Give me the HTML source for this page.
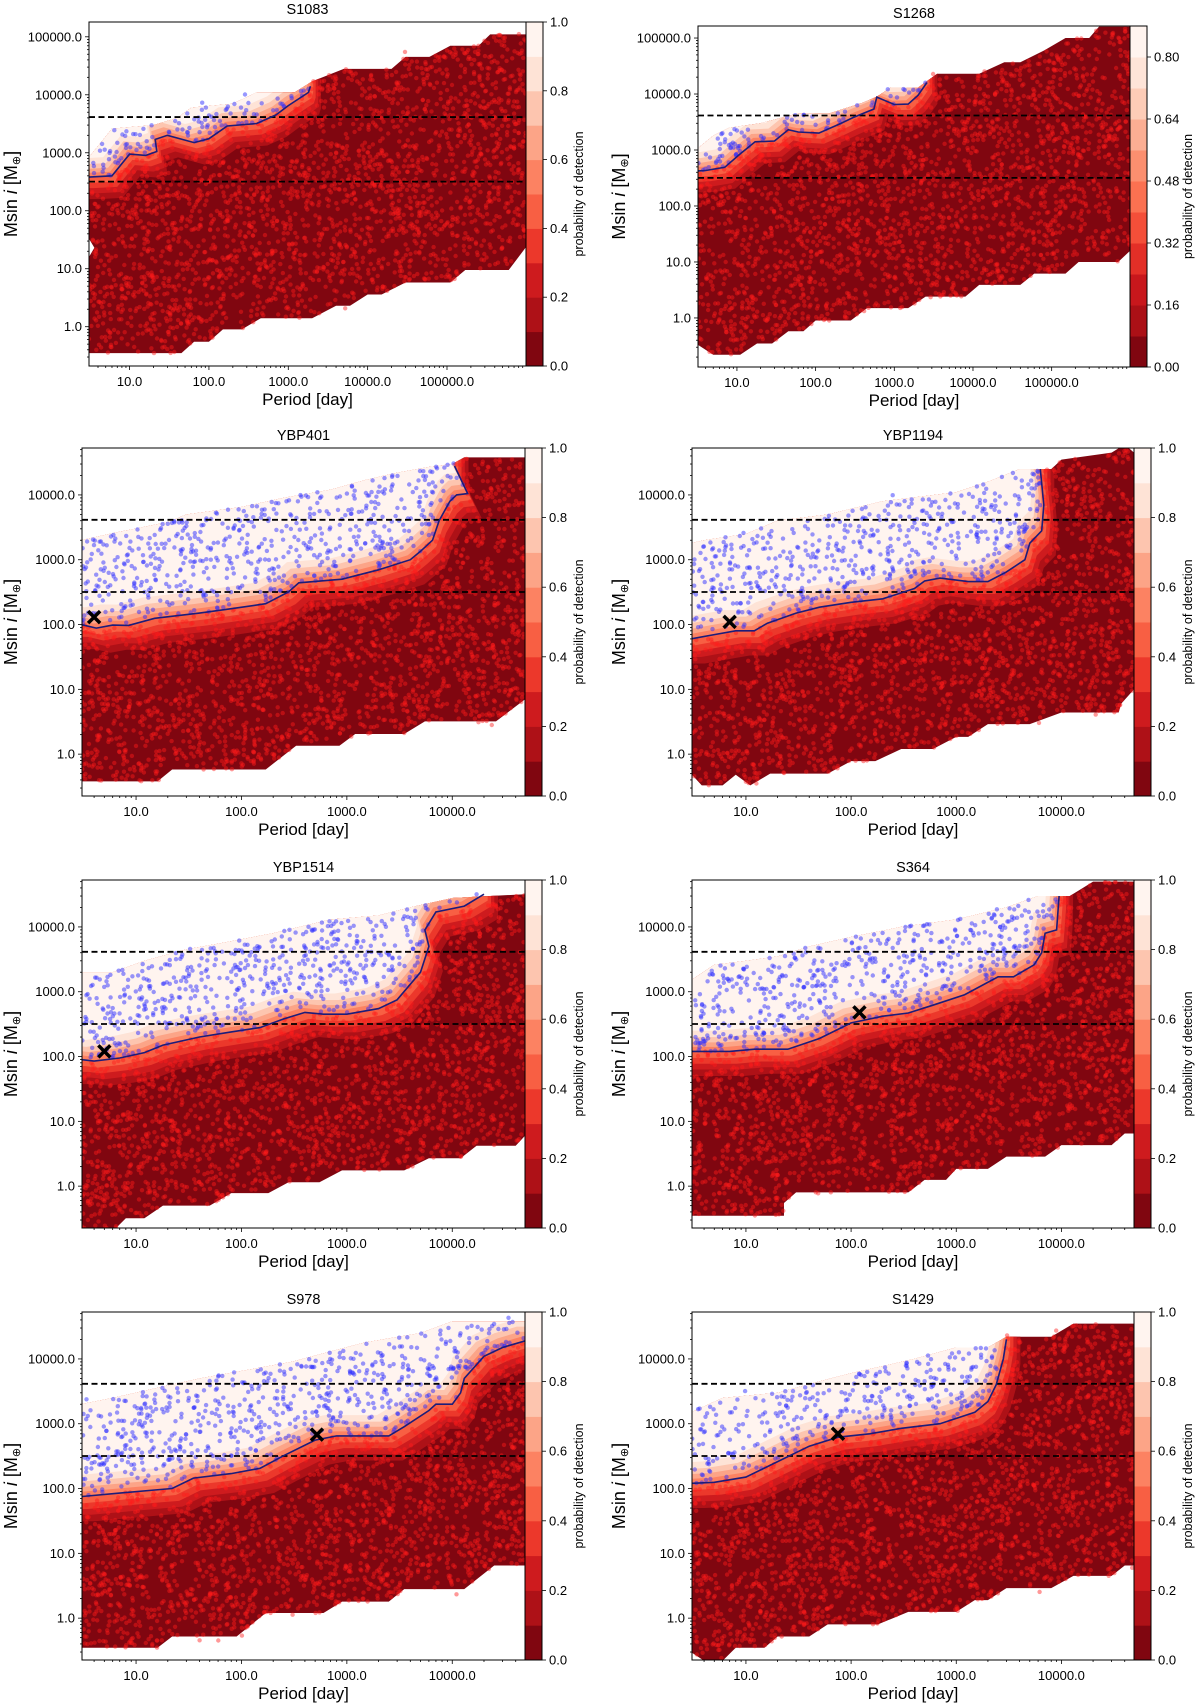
<!DOCTYPE html>
<html><head><meta charset="utf-8"><style>
html,body{margin:0;padding:0;background:#fff;}
svg{display:block;font-family:"Liberation Sans","DejaVu Sans",sans-serif;}
</style></head>
<body>
<svg id="fig" width="1200" height="1705" viewBox="0 0 1200 1705" xmlns="http://www.w3.org/2000/svg"></svg>
<script>
// ---- data arrays: [period (day), Msini (M_earth)] ----
const s1083Contour = [[3,380],[6,400],[10,950],[16,900],[22,1050],[21,1700],[30,2000],[65,1500],[100,1750],[170,2900],[400,3200],[700,4500],[1000,6500],[1800,11000],[1900,14000]];
const s1083Upper = [[3,800],[4,1300],[6,2600],[20,3000],[40,4000],[60,6000],[200,7000],[400,11000],[1200,11000],[2000,17000],[5000,28000],[20000,28000],[30000,45000],[60000,45000],[110000,70000],[250000,70000],[350000,110000],[1e6,110000]];
const s1083Lower = [[3,35],[3.6,23],[3,15],[3,0.35],[45,0.35],[65,0.55],[100,0.55],[150,0.9],[260,0.9],[450,1.4],[2000,1.4],[4000,2.3],[6000,2.3],[10000,3.6],[15000,3.6],[30000,5.8],[110000,5.8],[170000,9.5],[600000,9.5],[1e6,24]];

const s1268Contour = [[3,420],[4,430],[7,490],[11,850],[17,1400],[30,1450],[45,2300],[60,2100],[110,2000],[200,2900],[300,3800],[550,5400],[600,8800],[1000,6500],[1500,6600],[2000,9500],[2600,16000]];
const s1268Upper = [[3,1000],[5,1800],[8,2500],[20,3000],[60,4500],[150,4500],[400,7000],[600,9000],[900,13000],[2000,13000],[3500,23000],[12000,23000],[25000,37000],[40000,37000],[80000,60000],[150000,100000],[300000,100000],[400000,160000],[1e6,160000]];
const s1268Lower = [[3,0.35],[5,0.22],[11,0.22],[18,0.35],[28,0.35],[45,0.58],[70,0.58],[100,0.9],[280,0.9],[450,1.5],[1500,1.5],[2500,2.4],[8000,2.4],[12000,3.9],[40000,3.9],[60000,6.2],[150000,6.2],[220000,10],[700000,10],[1e6,16]];

const ybp401Contour = [[3,100],[4.2,88],[6,98],[8.5,97],[15,125],[40,150],[70,170],[170,210],[280,320],[350,440],[900,500],[2000,700],[4000,1000],[5000,1350],[6500,2000],[7500,4000],[9500,8000],[11000,10000],[14000,10500],[10500,28000]];
const ybp401Upper = [[3,2000],[7,2700],[20,3800],[30,5000],[100,6500],[250,9000],[700,12000],[1500,17000],[3000,22000],[6000,27000],[10000,30000],[13000,38000],[49000,38000]];
const ybp401Lower = [[3,0.38],[16,0.38],[22,0.58],[170,0.58],[330,1.35],[850,1.35],[1200,2.05],[3500,2.05],[5500,3.2],[26000,3.2],[49000,7]];

const ybp1194Contour = [[3,60],[5,70],[8,80],[12,80],[16,105],[30,150],[50,185],[100,220],[200,250],[400,360],[500,470],[700,520],[1300,460],[2000,460],[3000,650],[4500,1000],[5000,1800],[6500,2800],[6800,7000],[6300,25000]];
const ybp1194Upper = [[3,1800],[4,2000],[10,2500],[20,4000],[60,5000],[200,8000],[1000,11000],[2000,16000],[4000,25000],[8000,25000],[10000,35000],[30000,45000],[40000,60000],[49000,45000]];
const ybp1194Lower = [[3,0.5],[3.8,0.33],[6,0.33],[8,0.48],[11,0.33],[17,0.5],[60,0.5],[100,0.78],[170,0.78],[300,1.2],[600,1.2],[1000,1.85],[1300,1.85],[2000,2.9],[5000,2.9],[10000,4.4],[35000,4.4],[37000,6],[49000,10]];

const ybp1514Contour = [[3,90],[4,85],[7,95],[12,115],[18,150],[40,200],[80,240],[150,280],[250,380],[400,480],[600,450],[1000,450],[2000,550],[3000,750],[5000,2000],[6000,5000],[5500,9000],[7000,17000],[13000,21000],[20000,32000]];
const ybp1514Upper = [[3,2000],[6,2000],[12,3000],[30,4500],[60,5500],[200,8000],[700,13000],[2000,15000],[4000,20000],[10000,28000],[49000,32000]];
const ybp1514Lower = [[3,0.2],[6,0.2],[8,0.32],[12,0.32],[18,0.5],[50,0.5],[80,0.78],[180,0.78],[280,1.15],[550,1.15],[900,1.75],[3500,1.75],[6000,2.7],[12000,2.7],[17000,4.2],[40000,4.2],[49000,6]];

const s364Contour = [[3,120],[7,120],[12,130],[25,130],[50,190],[100,330],[200,420],[350,470],[600,620],[1200,900],[2500,1700],[3500,1700],[5500,2600],[6500,4000],[7000,8000],[9000,9000],[9500,30000]];
const s364Upper = [[3,1500],[5,2600],[10,3000],[20,3500],[40,5000],[100,7000],[300,10000],[1000,13000],[3000,20000],[6000,30000],[12000,30000],[20000,50000],[49000,50000]];
const s364Lower = [[3,0.35],[23,0.35],[23,0.55],[30,0.8],[350,0.8],[500,1.25],[800,1.25],[1000,1.85],[2000,1.85],[3000,2.85],[7000,2.85],[10000,4.3],[30000,4.3],[40000,6.5],[49000,6.5]];

const s978Contour = [[3,75],[7,85],[15,95],[22,100],[35,145],[80,170],[150,205],[250,320],[500,560],[800,650],[2500,650],[3500,900],[6000,1600],[7000,2000],[10000,2000],[12000,3000],[13000,5000],[20000,11000],[30000,15000],[49000,19000]];
const s978Upper = [[3,2000],[6,2500],[15,3500],[40,5000],[100,6500],[300,9000],[700,13000],[1500,18000],[5000,25000],[10000,38000],[49000,38000]];
const s978Lower = [[3,0.35],[16,0.35],[22,0.52],[90,0.52],[170,1.2],[600,1.2],[900,1.8],[2500,1.8],[3500,2.8],[13000,2.8],[25000,6.5],[49000,6.5]];

const s1429Contour = [[3,120],[5,125],[10,150],[20,260],[40,450],[75,620],[150,700],[300,850],[700,1000],[1500,1500],[2000,2200],[2400,4000],[2800,10000],[3000,20000]];
const s1429Upper = [[3,1500],[6,2500],[20,3000],[50,4500],[100,6000],[400,10000],[1000,15000],[2000,15000],[3000,22000],[8000,22000],[13000,35000],[49000,35000]];
const s1429Lower = [[3,0.3],[4,0.22],[6,0.22],[8,0.35],[15,0.35],[20,0.52],[40,0.52],[60,0.8],[180,0.8],[350,1.25],[1000,1.25],[1500,1.9],[2000,1.9],[3000,2.9],[8000,2.9],[13000,4.5],[30000,4.5],[40000,6.5],[49000,6.5]];

const targetCross = {ybp401:[4,130], ybp1194:[7,110], ybp1514:[5,120], s364:[120,480], s978:[520,680], s1429:[75,700]};
const massLimits = [4131, 318];
const xTicksWide = [10,100,1000,10000,100000];
const xTicksNarrow = [10,100,1000,10000];
const yTicksWide = [1,10,100,1000,10000,100000];
const yTicksNarrow = [1,10,100,1000,10000];
const cbTicksStd = [0,0.2,0.4,0.6,0.8,1.0];
const cbTicks1268 = [0,0.16,0.32,0.48,0.64,0.80];
const bandOffsets = [0.38,0.28,0.19,0.1,0,-0.07,-0.14,-0.22,-0.32];

const NS = "http://www.w3.org/2000/svg";
const svg = document.getElementById('fig');
function el(tag, attrs, parent){const e=document.createElementNS(NS,tag);for(const k in attrs)e.setAttribute(k,attrs[k]);(parent||svg).appendChild(e);return e;}
const stops=[[0,[255,245,240]],[.125,[254,224,210]],[.25,[252,187,161]],[.375,[252,146,114]],[.5,[251,106,74]],[.625,[239,59,44]],[.75,[203,24,29]],[.875,[165,15,21]],[1,[103,0,13]]];
function reds(t){t=Math.max(0,Math.min(1,t));for(let i=1;i<stops.length;i++){if(t<=stops[i][0]){const a=stops[i-1],b=stops[i];const f=(t-a[0])/(b[0]-a[0]);const c=a[1].map((v,j)=>Math.round(v+(b[1][j]-v)*f));return `rgb(${c[0]},${c[1]},${c[2]})`;}}return 'rgb(103,0,13)';}
function bandColor(lev,n){return reds(0.95-lev*(0.945/(n-1)));}
function mulberry(a){return function(){a|=0;a=a+0x6D2B79F5|0;let t=Math.imul(a^a>>>15,1|a);t=t+Math.imul(t^t>>>7,61|t)^t;return((t^t>>>14)>>>0)/4294967296;}}
function inPoly(x,y,p){let c=false;for(let i=0,j=p.length-1;i<p.length;j=i++){const xi=p[i][0],yi=p[i][1],xj=p[j][0],yj=p[j][1];if(((yi>y)!=(yj>y))&&(x<(xj-xi)*(y-yi)/(yj-yi)+xi))c=!c;}return c;}
const L=Math.log10;

const panels = [
 {id:'s1083',title:'S1083',x0:89,x1:526,y0:22,y1:366,xr:[3.08,9.9e5],yr:[0.21,1.8e5],contour:s1083Contour,upper:s1083Upper,lower:s1083Lower,tail:'up',xt:xTicksWide,yt:yTicksWide,cb:'std',cross:null,seed:11,col:0},
 {id:'s1268',title:'S1268',x0:698,x1:1130,y0:26,y1:367,xr:[3.2,9.9e5],yr:[0.133,1.64e5],contour:s1268Contour,upper:s1268Upper,lower:s1268Lower,tail:'up',xt:xTicksWide,yt:yTicksWide,cb:'1268',cross:null,seed:12,col:1},
 {id:'ybp401',title:'YBP401',x0:82,x1:525,y0:448,y1:796,xr:[3.07,4.9e4],yr:[0.226,5.3e4],contour:ybp401Contour,upper:ybp401Upper,lower:ybp401Lower,tail:'up',xt:xTicksNarrow,yt:yTicksNarrow,cb:'std',cross:targetCross.ybp401,seed:13,col:0},
 {id:'ybp1194',title:'YBP1194',x0:692,x1:1134,y0:448,y1:796,xr:[3.07,4.9e4],yr:[0.226,5.3e4],contour:ybp1194Contour,upper:ybp1194Upper,lower:ybp1194Lower,tail:'up',xt:xTicksNarrow,yt:yTicksNarrow,cb:'std',cross:targetCross.ybp1194,seed:14,col:1},
 {id:'ybp1514',title:'YBP1514',x0:82,x1:525,y0:880,y1:1228,xr:[3.07,4.9e4],yr:[0.226,5.3e4],contour:ybp1514Contour,upper:ybp1514Upper,lower:ybp1514Lower,tail:'up',xt:xTicksNarrow,yt:yTicksNarrow,cb:'std',cross:targetCross.ybp1514,seed:15,col:0},
 {id:'s364',title:'S364',x0:692,x1:1134,y0:880,y1:1228,xr:[3.07,4.9e4],yr:[0.226,5.3e4],contour:s364Contour,upper:s364Upper,lower:s364Lower,tail:'up',xt:xTicksNarrow,yt:yTicksNarrow,cb:'std',cross:targetCross.s364,seed:16,col:1},
 {id:'s978',title:'S978',x0:82,x1:525,y0:1312,y1:1660,xr:[3.07,4.9e4],yr:[0.226,5.3e4],contour:s978Contour,upper:s978Upper,lower:s978Lower,tail:'right',xt:xTicksNarrow,yt:yTicksNarrow,cb:'std',cross:targetCross.s978,seed:17,col:0},
 {id:'s1429',title:'S1429',x0:692,x1:1134,y0:1312,y1:1660,xr:[3.07,4.9e4],yr:[0.226,5.3e4],contour:s1429Contour,upper:s1429Upper,lower:s1429Lower,tail:'up',xt:xTicksNarrow,yt:yTicksNarrow,cb:'std',cross:targetCross.s1429,seed:18,col:1}
];

panels.forEach(p=>{
  const sx=v=>p.x0+(L(v)-L(p.xr[0]))/(L(p.xr[1])-L(p.xr[0]))*(p.x1-p.x0);
  const sy=v=>p.y1-(L(v)-L(p.yr[0]))/(L(p.yr[1])-L(p.yr[0]))*(p.y1-p.y0);
  const g=el('g',{});
  
  
  const cpid='clip-'+p.id, envid='env-'+p.id;
  const defs=el('defs',{},g);
  const cp=el('clipPath',{id:cpid},defs); el('rect',{x:p.x0,y:p.y0,width:p.x1-p.x0,height:p.y1-p.y0},cp);
  const envPts=p.upper.concat(p.lower.slice().reverse()).map(q=>[sx(q[0]),sy(q[1])]);
  const ce=el('clipPath',{id:envid},defs); el('polygon',{points:envPts.map(q=>q.join(',')).join(' ')},ce);
  const plot=el('g',{'clip-path':`url(#${cpid})`},g);
  const base=el('polygon',{points:envPts.map(q=>q.join(',')).join(' '),fill:bandColor(0,10)},plot);
  
  
  const fillG=el('g',{'clip-path':`url(#${envid})`},plot);
  function bandPoly(d){
    const fx=Math.pow(10,d*0.35), fy=Math.pow(10,-d);
    const pts=p.contour.map(q=>[q[0]*fx,q[1]*fy]);
    const out=[[1e-3,pts[0][1]]].concat(pts);
    const last=pts[pts.length-1];
    if(p.tail==='up'){out.push([last[0],1e12]);}else{out.push([1e12,last[1]]);out.push([1e12,1e12]);}
    out.push([1e-3,1e12]);
    return out.map(q=>[sx(q[0]),sy(q[1])]);
  }
  bandOffsets.forEach((d,i)=>{
    const lev=i+1;
    const pg=el('polygon',{points:bandPoly(d).map(q=>q.join(',')).join(' '),fill:bandColor(lev,10)},fillG);
    
    
  });
  // injected-planet texture dots (seeded)
  const detPoly=bandPoly(0);
  const rng=mulberry(p.seed);
  const dots=el('g',{},plot);
  
  
  const area=(p.x1-p.x0)*(p.y1-p.y0);
  const N=Math.round(area/40);
  for(let k=0;k<N;k++){
    const x=p.x0+rng()*(p.x1-p.x0), y=p.y0+rng()*(p.y1-p.y0);
    const inside=inPoly(x,y,envPts);
    const near=!inside && rng()<0.03 && (inPoly(x,y+6,envPts)||inPoly(x,y-6,envPts));
    if(!inside && !near) continue;
    const det=inPoly(x,y,detPoly);
    if(det && rng()<0.3) continue;
    el('circle',{cx:x.toFixed(1),cy:y.toFixed(1),r:2.2,fill:det?'#3030ff':'#ff1a1a','fill-opacity':det?0.5:0.45},dots);
  }
  // dashed mass limits
  massLimits.forEach((m,i)=>{
    const ln=el('line',{x1:p.x0,x2:p.x1,y1:sy(m),y2:sy(m),stroke:'#000','stroke-width':1.8,'stroke-dasharray':'6,3.5'},plot);
    
    
  });
  // 50% contour line
  const cl=el('polyline',{points:p.contour.map(q=>sx(q[0]).toFixed(1)+','+sy(q[1]).toFixed(1)).join(' '),fill:'none',stroke:'#1c1c7a','stroke-width':1.6},plot);
  
  
  if(p.cross){
    const cx=sx(p.cross[0]), cy=sy(p.cross[1]);
    const xg=el('g',{stroke:'#000','stroke-width':3.5},plot);
    
    
    el('line',{x1:cx-6,y1:cy-6,x2:cx+6,y2:cy+6},xg);el('line',{x1:cx-6,y1:cy+6,x2:cx+6,y2:cy-6},xg);
  }
  // frame
  const fr=el('rect',{x:p.x0,y:p.y0,width:p.x1-p.x0,height:p.y1-p.y0,fill:'none',stroke:'#000','stroke-width':1},g);
  
  
  // ticks
  const ax=el('g',{stroke:'#000','stroke-width':0.8},g);
  const lx=Math.floor(L(p.xr[0])), hx=Math.ceil(L(p.xr[1]));
  for(let e=lx;e<=hx;e++)for(let m=1;m<10;m++){const v=m*Math.pow(10,e);if(v<p.xr[0]||v>p.xr[1])continue;const x=sx(v);el('line',{x1:x,x2:x,y1:p.y1,y2:p.y1+(m===1?4:2)},ax);}
  const ly=Math.floor(L(p.yr[0])), hy=Math.ceil(L(p.yr[1]));
  for(let e=ly;e<=hy;e++)for(let m=1;m<10;m++){const v=m*Math.pow(10,e);if(v<p.yr[0]||v>p.yr[1])continue;const y=sy(v);el('line',{x1:p.x0,x2:p.x0-(m===1?4:2),y1:y,y2:y},ax);}
  p.xt.forEach(v=>{const t=el('text',{x:sx(v),y:p.y1+20,'text-anchor':'middle','font-size':13,fill:'#000'},g);t.textContent=v.toFixed(1);
    
    });
  p.yt.forEach(v=>{const t=el('text',{x:p.x0-7,y:sy(v)+4.5,'text-anchor':'end','font-size':13,fill:'#000'},g);t.textContent=v.toFixed(1);
    
    });
  const cxm=(p.x0+p.x1)/2, cym=(p.y0+p.y1)/2;
  const tt=el('text',{x:cxm,y:p.y0-8,'text-anchor':'middle','font-size':14.5,fill:'#000'},g);tt.textContent=p.title;
  
  
  const xl=el('text',{x:cxm,y:p.y1+39,'text-anchor':'middle','font-size':17,fill:'#000'},g);xl.textContent='Period [day]';
  
  
  const ylx=p.col===0?17:625;
  const yl=el('text',{x:ylx,y:cym,'text-anchor':'middle','font-size':18,fill:'#000',transform:`rotate(-90 ${ylx} ${cym})`},g);
  yl.innerHTML='Msin<tspan font-style="italic"> i</tspan> [M<tspan font-size="11" dy="3">⊕</tspan><tspan dy="-3">]</tspan>';
  
  
  // colorbar
  const cbx=p.x1, cbw=17;
  const cb=el('g',{},g);
  
  
  const nb=p.cb==='1268'?11:10, maxv=p.cb==='1268'?0.88:1.0, ticks=p.cb==='1268'?cbTicks1268:cbTicksStd;
  const bh=(p.y1-p.y0)/nb;
  for(let k=0;k<nb;k++){el('rect',{x:cbx,y:p.y1-(k+1)*bh,width:cbw,height:bh+0.5,fill:bandColor(k,nb)},cb);}
  el('rect',{x:cbx,y:p.y0,width:cbw,height:p.y1-p.y0,fill:'none',stroke:'#000','stroke-width':1},cb);
  ticks.forEach(v=>{const y=p.y1-v/maxv*(p.y1-p.y0);el('line',{x1:cbx+cbw,x2:cbx+cbw+4,y1:y,y2:y,stroke:'#000','stroke-width':0.8},cb);
    const t=el('text',{x:cbx+cbw+7,y:y+4.5,'font-size':13,fill:'#000'},cb);t.textContent=p.cb==='1268'?v.toFixed(2):v.toFixed(1);
    
    });
  const cbl=p.col===0?583:1192;
  const ct=el('text',{x:cbl,y:cym,'text-anchor':'middle','font-size':12.5,fill:'#000',transform:`rotate(-90 ${cbl} ${cym})`},cb);ct.textContent='probability of detection';
  
  
});
</script>
</body></html>
